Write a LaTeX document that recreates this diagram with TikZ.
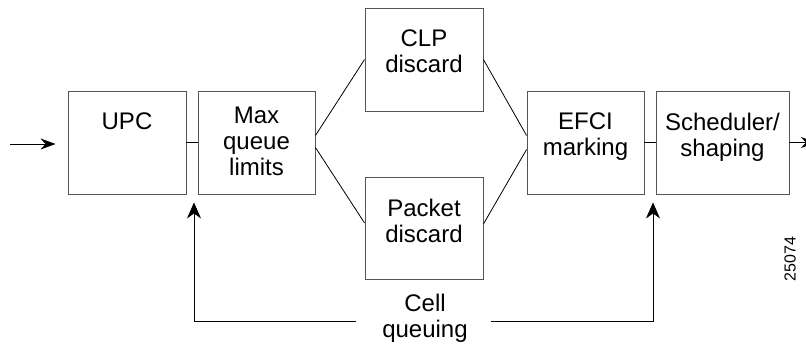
\documentclass[tikz,border=0pt]{standalone}
\usepackage{fontspec}
\setmainfont{Liberation Sans}
\usetikzlibrary{arrows.meta, positioning}
\definecolor{boxgray}{HTML}{555555}

\begin{document}
\begin{tikzpicture}[x=1pt, y=-1pt,
  stage/.style={draw=boxgray, line width=0.9pt, minimum height=103pt, inner sep=0pt},
  caption/.style={align=center, inner sep=0pt, font=\fontsize{24}{26}\selectfont},
  link/.style={line width=0.8pt},
  flow/.style={link, -{Stealth[length=15pt, width=11pt, inset=5pt]}},
  feed/.style={link, -{Stealth[length=16pt, width=14pt, inset=5pt]}}
]
\useasboundingbox (0,0) rectangle (806,345);
% stages
\node[stage, minimum width=118pt] (upc) at (127,142.5) {};
\node[stage, minimum width=117pt] (maxq) at (256.5,142.5) {};
\node[stage, minimum width=118pt] (clp) at (424,59.5) {};
\node[stage, minimum width=118pt, minimum height=102pt] (pkt) at (424,228) {};
\node[stage, minimum width=117pt] (efci) at (585.5,142.5) {};
\node[stage, minimum width=133pt] (sched) at (722.5,142.5) {};
% captions
\node[caption, below=22pt of upc.north] (upctxt) {UPC};
\node[caption, below=16pt of maxq.north] (maxqtxt) {Max\\queue\\limits};
\node[caption, below=22pt of clp.north] (clptxt) {CLP\\discard};
\node[caption, below=22pt of pkt.north] (pkttxt) {Packet\\discard};
\node[caption, below=22pt of efci.north] (efcitxt) {EFCI\\marking};
\node[caption, below=22pt of sched.north] (schedtxt) {Scheduler/\\shaping};
\node[caption] (cell) at (425,318) {Cell\\queuing};
\node[rotate=90, inner sep=0pt, font=\fontsize{16}{16}\selectfont] (fignum) at (790,259) {25074};

% main flow
\coordinate (src) at (10,144);
\coordinate (sink) at (816,142.5);
\draw[flow, shorten >=12pt] (src) -- (src -| upc.west);
\draw[link] (upc) -- (maxq);
\draw[link] ([yshift=7pt]maxq.east) -- (clp.west);
\draw[link] ([yshift=-5pt]maxq.east) -- ([yshift=5pt]pkt.west);
\draw[link] (clp.east) -- ([yshift=7pt]efci.west);
\draw[link] ([yshift=4pt]pkt.east) -- ([yshift=-7pt]efci.west);
\draw[link] (efci) -- (sched);
\draw[flow] (sched.east) -- (sink);

% feedback
\coordinate (lcorner) at (194,321);
\coordinate (rcorner) at (653,321);
\draw[feed, shorten <=26pt, shorten >=8pt] (cell.west |- lcorner) -- (lcorner) -- (lcorner |- upc.south);
\draw[feed, shorten <=23pt, shorten >=8pt] (cell.east |- rcorner) -- (rcorner) -- (rcorner |- efci.south);
\end{tikzpicture}
\end{document}
